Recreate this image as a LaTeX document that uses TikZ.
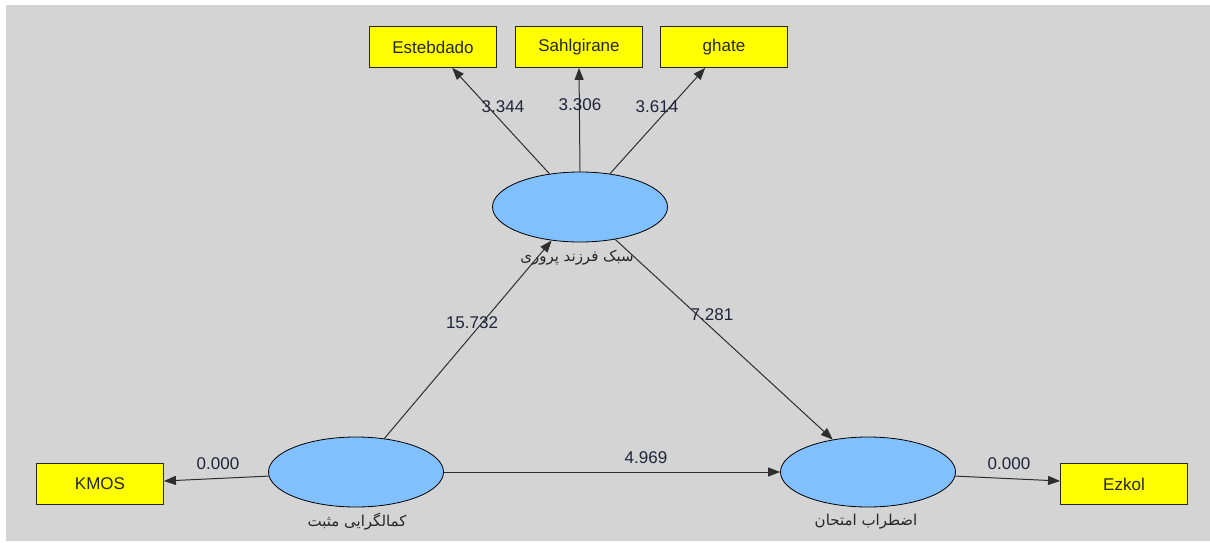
\documentclass[tikz,border=0pt]{standalone}
\usepackage{fontspec}
\setmainfont{Liberation Sans}
\newfontfamily\arabicfont[Script=Arabic]{DejaVu Sans}
\TeXXeTstate=1
\usetikzlibrary{arrows.meta,shapes.geometric}
\definecolor{canvas}{HTML}{D4D4D4}
\definecolor{latent}{HTML}{80C0FF}
\definecolor{indicator}{HTML}{FFFF00}
\definecolor{valtext}{HTML}{22223A}
\definecolor{pathline}{HTML}{2E2E2E}
\tikzset{
  latentvar/.style={ellipse, draw=black, line width=0.8pt, fill=latent,
    minimum width=175pt, minimum height=70pt, inner sep=0pt},
  indbox/.style={rectangle, draw=black!85, line width=0.9pt, fill=indicator,
    minimum width=127pt, minimum height=41pt, inner sep=0pt,
    font=\fontsize{17}{20}\selectfont, text=black!85},
  pathlabel/.style={font=\fontsize{17}{20}\selectfont, text=valtext, inner sep=1pt},
  varname/.style={font=\arabicfont\fontsize{15}{17}\selectfont, text=black!85, inner sep=0pt},
  pathedge/.style={draw=pathline, line width=1pt,
    -{Triangle[length=12pt,width=9pt]}},
}
\begin{document}
\begin{tikzpicture}[x=1pt,y=-1pt]
\useasboundingbox (0,0) rectangle (1210,543);
\fill[canvas] (6,5) rectangle (1210,541);

% latent variables
\node[latentvar] (parent) at (580,207) {};
\node[latentvar] (perf)   at (356,472) {};
\node[latentvar] (anx)    at (868,472) {};

\node[varname] (parentname) at (577,258) {\beginR سبک فرزند پروری\endR};
\node[varname] (perfname)   at (357,522) {\beginR کمالگرایی مثبت\endR};
\node[varname] (anxname)    at (866,522) {\beginR اضطراب امتحان\endR};

% indicators
\node[indbox] (est)   at (433,47)   {Estebdado};
\node[indbox] (sahl)  at (579,47)   {Sahlgirane};
\node[indbox] (ghate) at (724,47)   {ghate};
\node[indbox] (kmos)  at (100,484)  {KMOS};
\node[indbox] (ezkol) at (1124,484) {Ezkol};

% paths
\draw[pathedge] (parent) -- (est);
\draw[pathedge] (parent.north) -- (sahl.south);
\draw[pathedge] (parent) -- (ghate);
\draw[pathedge] (perf) -- (parent);
\draw[pathedge] (parent) -- (anx);
\draw[pathedge] (perf) -- (anx);
\draw[pathedge] (perf) -- (kmos);
\draw[pathedge] (anx) -- (ezkol);

% path coefficients
\node[pathlabel] (v1) at (503,107) {3.344};
\node[pathlabel] (v2) at (580,105) {3.306};
\node[pathlabel] (v3) at (657,107) {3.614};
\node[pathlabel] (v4) at (472,323) {15.732};
\node[pathlabel] (v5) at (712,315) {7.281};
\node[pathlabel] (v6) at (646,458) {4.969};
\node[pathlabel] (v7) at (218,464) {0.000};
\node[pathlabel] (v8) at (1009,464) {0.000};
\end{tikzpicture}
\end{document}
